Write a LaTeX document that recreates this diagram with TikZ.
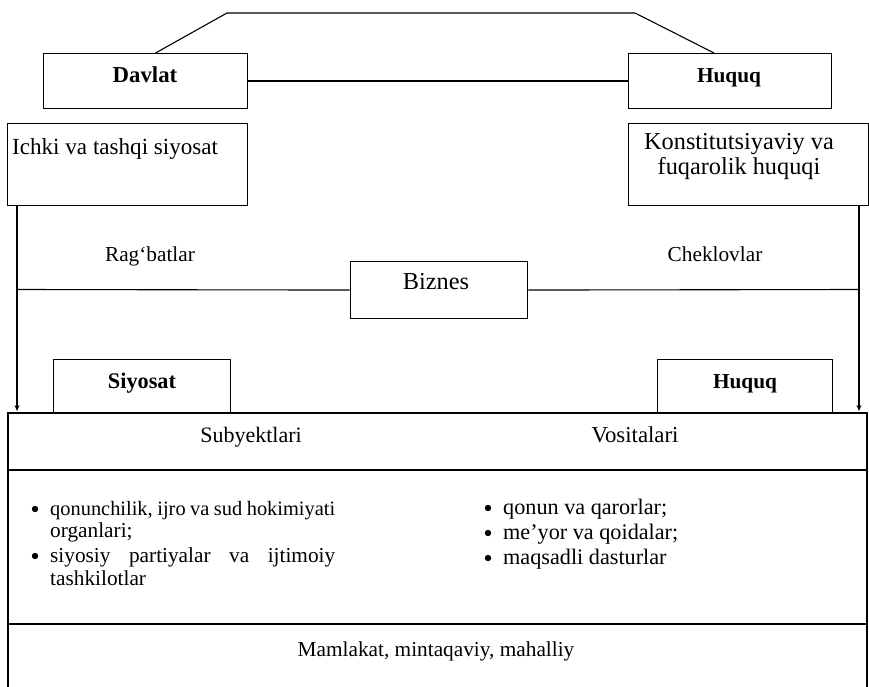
\documentclass[tikz,border=0pt]{standalone}
\usepackage{fontspec}
\setmainfont{Liberation Serif}
\usetikzlibrary{arrows.meta}
\newcommand{\fsz}[1]{\fontsize{#1}{#1}\selectfont}
\begin{document}
\begin{tikzpicture}[x=1pt,y=-1pt,
  box/.style={draw,line width=1.1pt,inner sep=0pt,anchor=north west},
  txt/.style={font=\fsz{21.3},inner sep=0pt,anchor=base},
  txtb/.style={font=\fsz{21.3}\bfseries,inner sep=0pt,anchor=base},
  txtl/.style={font=\fsz{21.3},inner sep=0pt,anchor=base west},
  ln/.style={line width=1.1pt},
  arr/.style={line width=1.1pt,-{Stealth[length=6pt,width=5pt]}}]
\useasboundingbox (0,0) rectangle (869,687);

% boxes
\node[box,minimum width=204pt,minimum height=55pt] (davlat) at (43,53) {};
\node[box,minimum width=203pt,minimum height=55pt] (huquqA) at (628,53) {};
\node[box,minimum width=240pt,minimum height=82pt] (ichki) at (7,123) {};
\node[box,minimum width=240pt,minimum height=82pt] (konst) at (628,123) {};
\node[box,minimum width=177pt,minimum height=57pt] (biznes) at (350,261) {};
\node[box,minimum width=177pt,minimum height=54pt] (siyosat) at (53,359) {};
\node[box,minimum width=175pt,minimum height=54pt] (huquqB) at (657,359) {};

% texts
\node[txtb,font=\fsz{22.8}\bfseries] (tDavlat) at (145,83) {Davlat};
\node[txtb] (tHuquqA) at (729,83) {Huquq};
\node[txtl,font=\fsz{23.1}] (tIchki) at (12,155) {Ichki va tashqi siyosat};
\node[txt,font=\fsz{24.3}] (tKonst1) at (739,150) {Konstitutsiyaviy va};
\node[txt,font=\fsz{24.3}] (tKonst2) at (739,175) {fuqarolik huquqi};
\node[txt] (tRag) at (150,261) {Rag‘batlar};
\node[txt] (tChek) at (715,261) {Cheklovlar};
\node[txt,font=\fsz{24.3}] (tBiznes) at (436,289) {Biznes};
\node[txtb,font=\fsz{22.3}\bfseries] (tSiyosat) at (142,388) {Siyosat};
\node[txtb] (tHuquqB) at (745,388) {Huquq};
\node[txt,font=\fsz{22}] (tSub) at (251,442) {Subyektlari};
\node[txt,font=\fsz{22.8}] (tVos) at (635,442) {Vositalari};

% left list
\fill (35,509) circle (3.2pt);
\node[txtl,font=\fsz{20.4}] (l1) at (50,515) {\makebox[285pt][s]{qonunchilik, ijro va sud hokimiyati}};
\node[txtl] (l2) at (50,537) {organlari;};
\fill (35,556) circle (3.2pt);
\node[txtl] (l3) at (50,562) {\makebox[285pt][s]{siyosiy partiyalar va ijtimoiy}};
\node[txtl] (l4) at (50,585) {tashkilotlar};

% right list
\fill (488,508) circle (3.2pt);
\node[txtl,font=\fsz{22.2}] (r1) at (503,514) {qonun va qarorlar;};
\fill (488,533) circle (3.2pt);
\node[txtl,font=\fsz{22.2}] (r2) at (503,539) {me’yor va qoidalar;};
\fill (488,558) circle (3.2pt);
\node[txtl,font=\fsz{22.2}] (r3) at (503,564) {maqsadli dasturlar};

\node[txt] (tMam) at (436,656) {Mamlakat, mintaqaviy, mahalliy};

% connectors
\coordinate (tl) at (227,13);
\coordinate (tr) at (635,13);
\draw[ln] ([xshift=10pt]davlat.north) -- (tl) -- (tr) -- ([xshift=-16pt]huquqA.north);
\draw[ln] (davlat.east) -- (huquqA.west);

\coordinate (la) at (17,205);
\coordinate (lm) at (17,289.5);
\coordinate (lb) at (17,411);
\coordinate (ra) at (859,205);
\coordinate (rm) at (859,289.5);
\coordinate (rb) at (859,411);
\draw[arr] (la) -- (lb);
\draw[arr] (ra) -- (rb);
\draw[ln] (lm) -- (biznes.west);
\draw[ln] (biznes.east) -- (rm);

% lower table
\draw[ln] (8,690) -- (8,413) -- (867,413) -- (867,690);
\draw[ln] (8,470) -- (867,470);
\draw[ln] (8,624) -- (867,624);
\end{tikzpicture}
\end{document}
